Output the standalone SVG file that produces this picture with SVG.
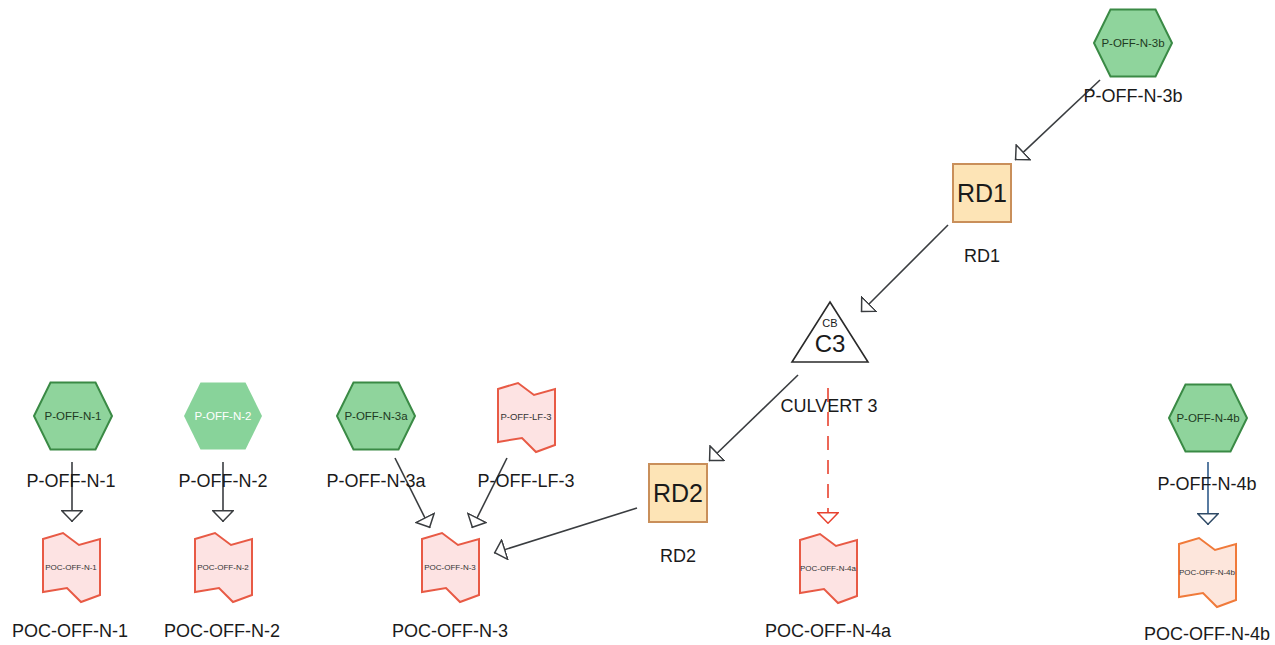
<svg xmlns="http://www.w3.org/2000/svg" width="1275" height="645" viewBox="0 0 1275 645">
<defs>
<style>
.lbl{font-family:"Liberation Sans",Arial,sans-serif;font-size:18px;fill:#1a1a1a;text-anchor:middle}
.hex{fill:#8fd49c;stroke:#3a8a45;stroke-width:2}
.hexpale{fill:#88d39a;stroke:none}
.htxt{font-family:"Liberation Sans",Arial,sans-serif;font-size:11.5px;fill:#1e3a22;text-anchor:middle}
.htxtw{font-family:"Liberation Sans",Arial,sans-serif;font-size:11.5px;fill:#ffffff;text-anchor:middle}
.poc{fill:#fde3e3;stroke:#e85a45;stroke-width:2}
.poco{fill:#fde6dc;stroke:#f07a3a;stroke-width:2}
.ptxt{font-family:"Liberation Sans",Arial,sans-serif;font-size:8px;fill:#333;text-anchor:middle}
.rd{fill:#fde4b6;stroke:#c98f5a;stroke-width:2}
.rdtxt{font-family:"Liberation Sans",Arial,sans-serif;font-size:25px;fill:#1a1a1a;text-anchor:middle}
.conn{fill:none;stroke:#3a3d40;stroke-width:1.6}
.connb{fill:none;stroke:#2f5b8a;stroke-width:1.6}
.connr{fill:none;stroke:#e8422f;stroke-width:1.6;stroke-dasharray:14,10}
</style>
<marker id="arr" viewBox="0 0 12 22" refX="12" refY="11" markerWidth="12" markerHeight="22" markerUnits="userSpaceOnUse" orient="auto">
<path d="M0.8,0.8 L11.2,11 L0.8,21.2 Z" fill="#fff" stroke="#3a3d40" stroke-width="1.5"/>
</marker>
<marker id="arrb" viewBox="0 0 12 22" refX="12" refY="11" markerWidth="12" markerHeight="22" markerUnits="userSpaceOnUse" orient="auto">
<path d="M0.8,0.8 L11.2,11 L0.8,21.2 Z" fill="#fff" stroke="#2f4a66" stroke-width="1.5"/>
</marker>
<marker id="arrr" viewBox="0 0 12 22" refX="12" refY="11" markerWidth="12" markerHeight="22" markerUnits="userSpaceOnUse" orient="auto">
<path d="M0.8,0.8 L11.2,11 L0.8,21.2 Z" fill="#fff" stroke="#e8422f" stroke-width="1.5"/>
</marker>
<path id="hexshape" d="M-39,0 L-22.5,-33.5 L22.5,-33.5 L39,0 L22.5,33.5 L-22.5,33.5 Z"/>
<path id="pocshape" d="M-28,-28 L-8,-34 L8,-22 L29,-28 L29,28 L10,35 L-4,21 L-28,25 Z"/>
</defs>
<rect width="1275" height="645" fill="#ffffff"/>

<g id="connectors">
<path class="conn" d="M1100,80 L1015,160" marker-end="url(#arr)"/>
<path class="conn" d="M948,225 L861,312" marker-end="url(#arr)"/>
<path class="conn" d="M798,375 L709,461" marker-end="url(#arr)"/>
<path class="conn" d="M637,508 L494,553" marker-end="url(#arr)"/>
<path class="conn" d="M395,458 L430,528" marker-end="url(#arr)"/>
<path class="conn" d="M507,458 L472,528" marker-end="url(#arr)"/>
<path class="connr" d="M828,388 L828,524" marker-end="url(#arrr)"/>
<path class="conn" d="M72,462 L72,522" marker-end="url(#arr)"/>
<path class="conn" d="M223,462 L223,522" marker-end="url(#arr)"/>
<path class="connb" d="M1208,462 L1208,525" marker-end="url(#arrb)"/>
</g>

<g id="P-OFF-N-3b">
<use href="#hexshape" class="hex" transform="translate(1133,43)"/>
<text class="htxt" x="1133" y="47">P-OFF-N-3b</text>
<text class="lbl" x="1133" y="102">P-OFF-N-3b</text>
</g>

<g id="RD1">
<rect class="rd" x="953" y="164" width="58" height="58"/>
<text class="rdtxt" x="982" y="202">RD1</text>
<text class="lbl" x="982" y="262">RD1</text>
</g>

<g id="C3">
<path d="M830,302 L868,362 L792,362 Z" fill="#ffffff" stroke="#2a2a2a" stroke-width="1.6"/>
<text x="830" y="327" style="font-family:'Liberation Sans',Arial,sans-serif;font-size:11px;fill:#1a1a1a;text-anchor:middle">CB</text>
<text x="830" y="352" style="font-family:'Liberation Sans',Arial,sans-serif;font-size:24px;fill:#1a1a1a;text-anchor:middle">C3</text>
<text class="lbl" x="829" y="412">CULVERT 3</text>
</g>

<g id="RD2">
<rect class="rd" x="649" y="464" width="58" height="58"/>
<text class="rdtxt" x="678" y="502">RD2</text>
<text class="lbl" x="678" y="562">RD2</text>
</g>

<g id="P-OFF-N-1">
<use href="#hexshape" class="hex" transform="translate(73,416)"/>
<text class="htxt" x="73" y="420">P-OFF-N-1</text>
<text class="lbl" x="71" y="487">P-OFF-N-1</text>
</g>

<g id="P-OFF-N-2">
<use href="#hexshape" class="hexpale" transform="translate(223,416)"/>
<text class="htxtw" x="223" y="420">P-OFF-N-2</text>
<text class="lbl" x="223" y="487">P-OFF-N-2</text>
</g>

<g id="P-OFF-N-3a">
<use href="#hexshape" class="hex" transform="translate(376,416)"/>
<text class="htxt" x="376" y="420">P-OFF-N-3a</text>
<text class="lbl" x="376" y="487">P-OFF-N-3a</text>
</g>

<g id="P-OFF-LF-3">
<use href="#pocshape" class="poc" transform="translate(526,417)"/>
<text class="ptxt" x="526" y="420" style="font-size:9.5px">P-OFF-LF-3</text>
<text class="lbl" x="526" y="487">P-OFF-LF-3</text>
</g>

<g id="P-OFF-N-4b">
<use href="#hexshape" class="hex" transform="translate(1208,418)"/>
<text class="htxt" x="1208" y="422">P-OFF-N-4b</text>
<text class="lbl" x="1207" y="490">P-OFF-N-4b</text>
</g>

<g id="POC-OFF-N-1">
<use href="#pocshape" class="poc" transform="translate(71,567)"/>
<text class="ptxt" x="71" y="570">POC-OFF-N-1</text>
<text class="lbl" x="70" y="637">POC-OFF-N-1</text>
</g>

<g id="POC-OFF-N-2">
<use href="#pocshape" class="poc" transform="translate(223,567)"/>
<text class="ptxt" x="223" y="570">POC-OFF-N-2</text>
<text class="lbl" x="222" y="637">POC-OFF-N-2</text>
</g>

<g id="POC-OFF-N-3">
<use href="#pocshape" class="poc" transform="translate(450,567)"/>
<text class="ptxt" x="450" y="570">POC-OFF-N-3</text>
<text class="lbl" x="450" y="637">POC-OFF-N-3</text>
</g>

<g id="POC-OFF-N-4a">
<use href="#pocshape" class="poc" transform="translate(828,568)"/>
<text class="ptxt" x="828" y="571">POC-OFF-N-4a</text>
<text class="lbl" x="828" y="637">POC-OFF-N-4a</text>
</g>

<g id="POC-OFF-N-4b">
<use href="#pocshape" class="poco" transform="translate(1207,572)"/>
<text class="ptxt" x="1207" y="575">POC-OFF-N-4b</text>
<text class="lbl" x="1207" y="640">POC-OFF-N-4b</text>
</g>
</svg>
